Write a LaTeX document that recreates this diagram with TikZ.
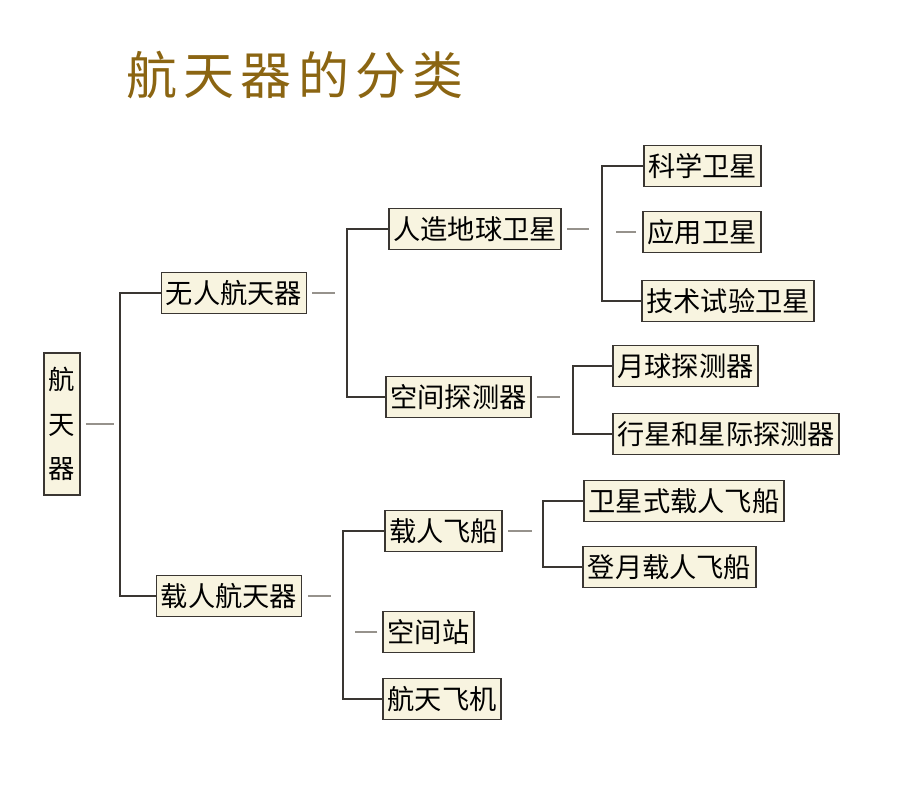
\documentclass[tikz,border=0pt]{standalone}
\usepackage{fontspec}
\setmainfont{Noto Sans CJK SC}
\newfontfamily\titlefont[LetterSpace=12]{Noto Sans CJK SC}
\usepackage{tikz}
\usetikzlibrary{calc}
\definecolor{mybrown}{RGB}{139, 101, 18}
\definecolor{mybeige}{RGB}{248, 244, 224}
\definecolor{mygray1}{RGB}{58, 54, 50}
\definecolor{mygray2}{RGB}{150, 146, 140}

\begin{document}
\begin{tikzpicture}[
    x = 0.02cm, y = -0.02cm,
    box/.style = {draw = mygray1, fill = mybeige, line width = 1.1pt, inner xsep = 2.5pt, inner ysep = 0pt, minimum height = 0.82cm, font = \fontsize{15.5}{15.5}\selectfont},
    d0/.style = {draw = mygray1, line width = 1.1pt},
    d1/.style = {draw = mygray2, line width = 0.6pt}
]

\useasboundingbox (0,0) rectangle (900,787);
\node[font = \titlefont\fontsize{29}{29}\selectfont, text = mybrown] (title) at (295,75) {航天器的分类};

\node[box, minimum width = 0.72cm, minimum height = 2.84cm, inner xsep = 0pt, align = center, font = \fontsize{15}{25.5}\selectfont] (root) at (62,424) {航\\天\\器};

\node[box] (wr) at (234,293) {无人航天器};
\node[box] (zr) at (229,596) {载人航天器};

\node[box] (rz) at (475,229) {人造地球卫星};
\node[box] (kj) at (458.5,397) {空间探测器};
\node[box] (zf) at (443.5,531) {载人飞船};
\node[box] (kz) at (428.5,632) {空间站};
\node[box] (hf) at (442,699) {航天飞机};

\node[box] (kx) at (702.5,166) {科学卫星};
\node[box] (yy) at (702,232) {应用卫星};
\node[box] (js) at (728,301) {技术试验卫星};
\node[box] (yq) at (685.5,366) {月球探测器};
\node[box] (xx) at (726,434) {行星和星际探测器};
\node[box] (wx) at (684,501) {卫星式载人飞船};
\node[box] (dy) at (669.5,567) {登月载人飞船};

\coordinate (t0) at (120,0);
\coordinate (t1) at (347,0);
\coordinate (t2) at (602,0);
\coordinate (t3) at (573,0);
\coordinate (t4) at (343,0);
\coordinate (t5) at (543,0);

\draw[d1] (root.east) ++(5,0) -- ++(28,0);
\draw[d0] (wr.west) -- (wr.west -| t0) |- (zr.west);

\draw[d1] (wr.east) ++(5,0) -- ++(23,0);
\draw[d0] (rz.west) -- (rz.west -| t1) |- (kj.west);

\draw[d1] (rz.east) ++(5,0) -- ++(22,0);
\draw[d0] (kx.west) -- (kx.west -| t2) |- (js.west);
\draw[d1] (yy.west) ++(-6,0) -- ++(-20,0);

\draw[d1] (kj.east) ++(5,0) -- ++(23,0);
\draw[d0] (yq.west) -- (yq.west -| t3) |- (xx.west);

\draw[d1] (zr.east) ++(6,0) -- ++(23,0);
\draw[d0] (zf.west) -- (zf.west -| t4) |- (hf.west);
\draw[d1] (kz.west) ++(-5,0) -- ++(-22,0);

\draw[d1] (zf.east) ++(5,0) -- ++(24,0);
\draw[d0] (wx.west) -- (wx.west -| t5) |- (dy.west);
\end{tikzpicture}
\end{document}
